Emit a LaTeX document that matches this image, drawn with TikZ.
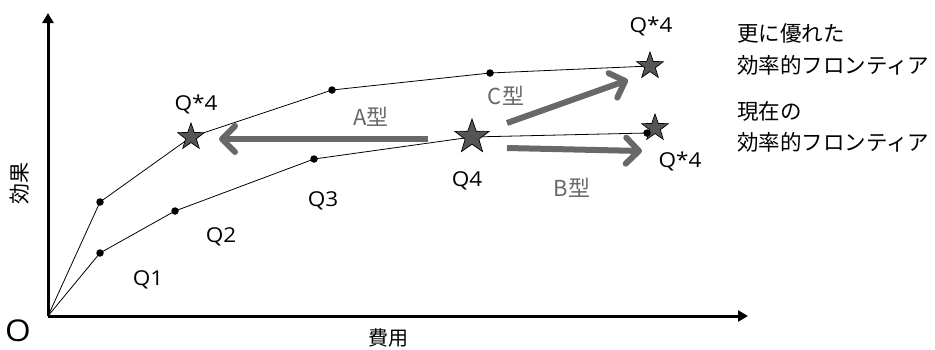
\documentclass[tikz,border=0pt]{standalone}
\usepackage{fontspec}
\setmainfont{Noto Sans CJK JP}
\newfontfamily\qfont[FakeStretch=1.1]{Open Sans}
\usetikzlibrary{arrows.meta,shapes.geometric}
\definecolor{arrowgray}{HTML}{686868}
\definecolor{stargray}{HTML}{555555}
\begin{document}
\begin{tikzpicture}[x=1pt,y=-1pt,
  dotnode/.style={circle,fill=black,inner sep=0pt,minimum size=7.5pt},
  starnode/.style={star,star points=5,star point ratio=2.5,fill=stargray,draw=black,line width=0.7pt,inner sep=0pt,minimum size=#1},
  starnode/.default=28pt,
  frontier/.style={draw=black,line width=0.8pt},
  axisline/.style={draw=black,line width=3pt,-{Triangle[length=10pt,width=11pt]}},
  garrow/.style={draw=arrowgray,line width=6pt,-{Straight Barb[length=13pt,width=26pt,round]}},
  qlabel/.style={font=\qfont\fontsize{20.5}{20.5}\selectfont,inner sep=0pt},
  glabel/.style={font=\fontsize{22}{22}\selectfont,text=arrowgray,inner sep=0pt},
  jlabel/.style={font=\fontsize{21.5}{21.5}\selectfont,inner sep=0pt,anchor=west}]
\useasboundingbox (0,0) rectangle (935,349);
% key points
\coordinate (O) at (48,316);
\coordinate (u1) at (100,202);
\coordinate (us) at (191,137);
\coordinate (u2) at (332,90);
\coordinate (u3) at (490,73);
\coordinate (uS) at (650,66);
\coordinate (l1) at (100,253);
\coordinate (l2) at (175,211);
\coordinate (l3) at (314,159);
\coordinate (l4) at (472,137);
\coordinate (l5) at (647,133);
\coordinate (lS) at (655,128);
\coordinate (yend) at (48,13);
\coordinate (xend) at (748,316);
% axes
\draw[axisline] (O) -- (yend);
\draw[axisline] (O) -- (xend);
% frontiers
\draw[frontier] (O) -- (u1) -- (us) -- (u2) -- (u3) -- (uS);
\draw[frontier] (O) -- (l1) -- (l2) -- (l3) -- (l4) -- (l5);
% dots
\node[dotnode] (d1) at (u1) {};
\node[dotnode] (d2) at (u2) {};
\node[dotnode] (d3) at (u3) {};
\node[dotnode] (e1) at (l1) {};
\node[dotnode] (e2) at (l2) {};
\node[dotnode] (e3) at (l3) {};
% stars
\node[starnode] (sA) at (us) {};
\node[starnode] (sC) at (uS) {};
\node[starnode=36pt] (s4) at (l4) {};
\node[starnode] (sB) at (lS) {};
\node[dotnode] (e5) at (l5) {};
% gray arrows
\coordinate (aS) at (428,139);
\coordinate (aE) at (219,139);
\coordinate (cS) at (507,123);
\coordinate (cE) at (628,80);
\coordinate (bS) at (507,148);
\coordinate (bE) at (642,151);
\draw[garrow] (aS) -- (aE);
\draw[garrow] (cS) -- (cE);
\draw[garrow] (bS) -- (bE);
\node[glabel] (tA) at (371,117) {A型};
\node[glabel] (tC) at (506,96) {C型};
\node[glabel] (tB) at (572,188) {B型};
% Q labels
\node[qlabel] (q1) at (148,280) {Q1};
\node[qlabel] (q2) at (221,237) {Q2};
\node[qlabel] (q3) at (323,201) {Q3};
\node[qlabel] (q4) at (467,181) {Q4};
\node[qlabel] (qa) at (196,104) {Q*4};
\node[qlabel] (qc) at (651,26) {Q*4};
\node[qlabel] (qb) at (680,161) {Q*4};
% axis labels
\node[font=\qfont\fontsize{30}{30}\selectfont,inner sep=0pt] (olab) at (18,331) {O};
\node[font=\fontsize{20}{20}\selectfont,inner sep=0pt] (xlab) at (388,338) {費用};
\node[font=\fontsize{21}{21}\selectfont,inner sep=0pt,rotate=90] (ylab) at (20,183) {効果};
% legend texts
\node[jlabel] (j1) at (737,33) {更に優れた};
\node[jlabel] (j2) at (737,65) {効率的フロンティア};
\node[jlabel] (j3) at (737,111) {現在の};
\node[jlabel] (j4) at (737,142) {効率的フロンティア};
\end{tikzpicture}
\end{document}
